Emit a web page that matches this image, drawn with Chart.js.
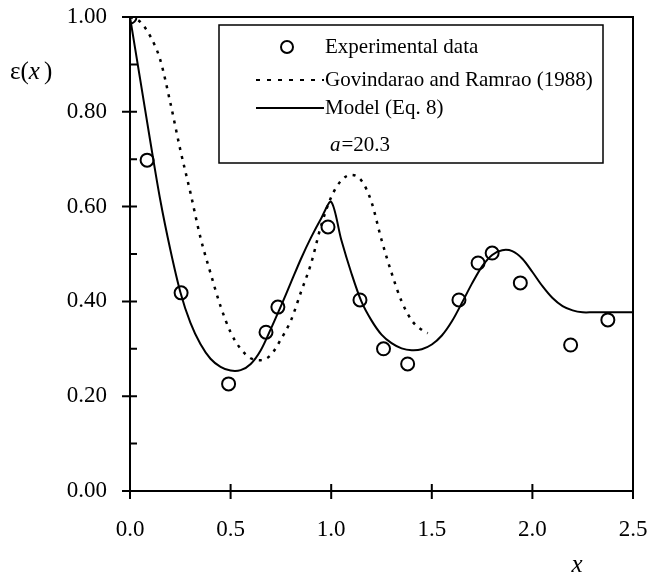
<!DOCTYPE html>
<html>
<head>
    <title>Porosity profile</title>
    <script src="https://cdn.jsdelivr.net/npm/chart.js"></script>
    <style>
        body { margin: 0; background: white; }
        #wrap { width: 652px; height: 576px; }
    </style>
</head>
<body>
    <div id="wrap"><canvas id="myChart" width="652" height="576"></canvas></div>
    <script>
        // experimental points
        const expX = [0, 0.085, 0.254, 0.49, 0.676, 0.735, 0.984, 1.143, 1.26, 1.38, 1.635, 1.73, 1.80, 1.94, 2.19, 2.375];
        const expY = [1.00, 0.698, 0.418, 0.226, 0.335, 0.388, 0.557, 0.403, 0.30, 0.268, 0.403, 0.481, 0.502, 0.439, 0.308, 0.361];

        // Govindarao and Ramrao (1988)
        const govX = [0, 0.05, 0.10, 0.15, 0.20, 0.25, 0.30, 0.35, 0.40, 0.45, 0.50, 0.55, 0.60, 0.65, 0.70, 0.75, 0.80, 0.85, 0.90, 0.95, 1.00, 1.05, 1.10, 1.15, 1.20, 1.25, 1.30, 1.35, 1.40, 1.45, 1.48];
        const govY = [1.00, 0.99, 0.96, 0.91, 0.82, 0.72, 0.63, 0.535, 0.46, 0.39, 0.335, 0.30, 0.28, 0.276, 0.287, 0.32, 0.36, 0.42, 0.48, 0.56, 0.62, 0.655, 0.667, 0.655, 0.61, 0.53, 0.46, 0.40, 0.36, 0.34, 0.333];

        // Model (Eq. 8)
        const modX = [0, 0.05, 0.10, 0.15, 0.20, 0.25, 0.30, 0.35, 0.40, 0.45, 0.50, 0.55, 0.60, 0.65, 0.70, 0.75, 0.80, 0.85, 0.90, 0.95, 1.00, 1.05, 1.10, 1.15, 1.20, 1.25, 1.30, 1.35, 1.40, 1.45, 1.50, 1.55, 1.60, 1.65, 1.70, 1.75, 1.80, 1.85, 1.90, 1.95, 2.00, 2.05, 2.10, 2.15, 2.20, 2.25, 2.30, 2.40, 2.50];
        const modY = [1.00, 0.87, 0.74, 0.615, 0.51, 0.42, 0.355, 0.31, 0.279, 0.262, 0.254, 0.255, 0.268, 0.297, 0.342, 0.39, 0.44, 0.49, 0.535, 0.575, 0.61, 0.53, 0.46, 0.40, 0.36, 0.33, 0.312, 0.301, 0.297, 0.299, 0.309, 0.328, 0.358, 0.397, 0.438, 0.474, 0.498, 0.508, 0.506, 0.49, 0.462, 0.432, 0.407, 0.39, 0.381, 0.377, 0.377, 0.377, 0.377];

        const yTicks = [0, 0.2, 0.4, 0.6, 0.8, 1.0];
        const yMinor = [0.1, 0.3, 0.5, 0.7, 0.9];
        const xTicks = [0, 0.5, 1.0, 1.5, 2.0, 2.5];

        const legendLabels = ['Experimental data', 'Govindarao and Ramrao (1988)', 'Model (Eq. 8)'];
        const paramText = '=20.3';

        const FONT = '"Liberation Serif", "Times New Roman", serif';

        function pairs(xs, ys) {
            return xs.map((x, i) => ({x: x, y: ys[i]}));
        }

        // frame, ticks, legend box and axis titles
        const decorPlugin = {
            id: 'decor',
            afterDraw(chart) {
                const ctx = chart.ctx;
                const area = chart.chartArea;
                const xs = chart.scales.x;
                const ys = chart.scales.y;
                ctx.save();
                ctx.strokeStyle = '#000';
                ctx.lineWidth = 2;
                ctx.strokeRect(area.left, area.top, area.right - area.left, area.bottom - area.top);

                ctx.beginPath();
                yTicks.forEach(v => {
                    const py = ys.getPixelForValue(v);
                    ctx.moveTo(area.left - 8, py);
                    ctx.lineTo(area.left + 7, py);
                });
                yMinor.forEach(v => {
                    const py = ys.getPixelForValue(v);
                    ctx.moveTo(area.left, py);
                    ctx.lineTo(area.left + 7, py);
                });
                xTicks.forEach(v => {
                    const px = xs.getPixelForValue(v);
                    ctx.moveTo(px, area.bottom - 7);
                    ctx.lineTo(px, area.bottom + 8);
                });
                ctx.stroke();

                // legend box
                const bx = 219, by = 25, bw = 384, bh = 138;
                ctx.lineWidth = 1.5;
                ctx.strokeRect(bx, by, bw, bh);
                ctx.fillStyle = '#000';
                ctx.font = '21px ' + FONT;
                ctx.textBaseline = 'middle';
                ctx.textAlign = 'left';
                const rows = [47, 80, 108];
                ctx.lineWidth = 2;
                ctx.beginPath();
                ctx.arc(287, rows[0], 6, 0, Math.PI * 2);
                ctx.stroke();
                ctx.fillText(legendLabels[0], 325, rows[0]);

                ctx.setLineDash([4, 7]);
                ctx.beginPath();
                ctx.moveTo(256, rows[1]);
                ctx.lineTo(324, rows[1]);
                ctx.stroke();
                ctx.setLineDash([]);
                ctx.fillText(legendLabels[1], 325, rows[1]);

                ctx.beginPath();
                ctx.moveTo(256, rows[2]);
                ctx.lineTo(324, rows[2]);
                ctx.stroke();
                ctx.fillText(legendLabels[2], 325, rows[2]);

                ctx.font = 'italic 21px ' + FONT;
                ctx.fillText('a', 330, 145);
                const aw = ctx.measureText('a').width;
                ctx.font = '21px ' + FONT;
                ctx.fillText(paramText, 331 + aw, 145);

                // axis titles
                ctx.font = '25px ' + FONT;
                let tx = 10;
                ctx.fillText('\u03b5(', tx, 72);
                tx += ctx.measureText('\u03b5(').width;
                ctx.font = 'italic 25px ' + FONT;
                ctx.fillText('x', tx, 72);
                tx += ctx.measureText('x').width + 4;
                ctx.font = '25px ' + FONT;
                ctx.fillText(')', tx, 72);

                ctx.font = 'italic 25px ' + FONT;
                ctx.textAlign = 'center';
                ctx.fillText('x', 577, 565);
                ctx.restore();
            }
        };

        const ctx = document.getElementById('myChart').getContext('2d');
        new Chart(ctx, {
            type: 'scatter',
            data: {
                datasets: [
                    {
                        label: legendLabels[0],
                        data: pairs(expX, expY),
                        pointStyle: 'circle',
                        pointRadius: 6.5,
                        pointBorderWidth: 2,
                        pointBorderColor: '#000',
                        pointBackgroundColor: 'rgba(255,255,255,0)',
                        showLine: false,
                        order: 0
                    },
                    {
                        label: legendLabels[1],
                        type: 'line',
                        data: pairs(govX, govY),
                        borderColor: '#000',
                        borderWidth: 2.5,
                        borderDash: [3, 6],
                        pointRadius: 0,
                        fill: false,
                        cubicInterpolationMode: 'monotone',
                        order: 2
                    },
                    {
                        label: legendLabels[2],
                        type: 'line',
                        data: pairs(modX, modY),
                        borderColor: '#000',
                        borderWidth: 2,
                        pointRadius: 0,
                        fill: false,
                        tension: 0.3,
                        order: 1
                    }
                ]
            },
            options: {
                responsive: false,
                animation: false,
                layout: {
                    padding: {left: 0, right: 19, top: 17, bottom: 0}
                },
                plugins: {
                    legend: {display: false},
                    tooltip: {enabled: false}
                },
                scales: {
                    x: {
                        type: 'linear',
                        min: 0,
                        max: 2.5,
                        afterFit: scale => {
                            scale.height = 85;
                            scale.paddingLeft = 0;
                            scale.paddingRight = 0;
                        },
                        afterBuildTicks: scale => { scale.ticks = xTicks.map(v => ({value: v})); },
                        grid: {display: false},
                        border: {display: false},
                        ticks: {
                            padding: 17,
                            color: '#000',
                            font: {family: FONT, size: 23},
                            callback: v => v.toFixed(1)
                        }
                    },
                    y: {
                        min: 0,
                        max: 1,
                        afterFit: scale => {
                            scale.width = 130;
                            scale.paddingTop = 0;
                            scale.paddingBottom = 0;
                        },
                        afterBuildTicks: scale => { scale.ticks = yTicks.map(v => ({value: v})); },
                        grid: {display: false},
                        border: {display: false},
                        ticks: {
                            padding: 15,
                            color: '#000',
                            font: {family: FONT, size: 23},
                            callback: v => v.toFixed(2)
                        }
                    }
                }
            },
            plugins: [decorPlugin]
        });
    </script>
</body>
</html>
